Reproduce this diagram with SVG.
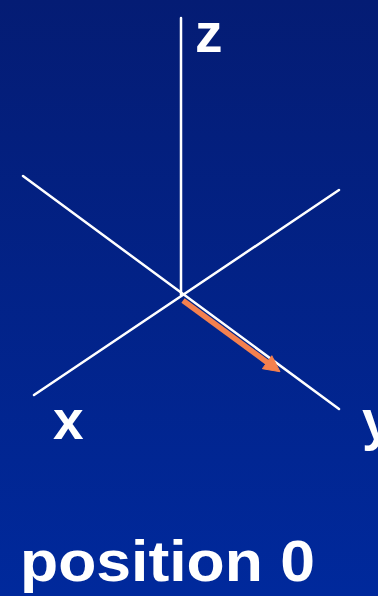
<svg xmlns="http://www.w3.org/2000/svg" width="378" height="596" viewBox="0 0 378 596">
<defs>
<linearGradient id="bg" x1="0" y1="0" x2="0" y2="1">
<stop offset="0" stop-color="#041c74"/>
<stop offset="1" stop-color="#00299c"/>
</linearGradient>
<style>
.axis{stroke:#ffffff;stroke-width:2.5;fill:none;stroke-linecap:round}
.lbl{font-family:"Liberation Sans",Arial,sans-serif;font-weight:bold;fill:#ffffff}
.arrow{fill:#f4804e;stroke:#f4804e}
</style>
</defs>
<rect width="378" height="596" fill="url(#bg)"/>
<g id="connectors">
<line class="axis" x1="181" y1="18" x2="181" y2="295"/>
<line class="axis" x1="23" y1="176" x2="339" y2="409"/>
<line class="axis" x1="339" y1="190" x2="34" y2="395"/>
<line x1="183" y1="300.5" x2="268" y2="363" stroke="#f4804e" stroke-width="5.5"/>
<polygon class="arrow" points="280,371.7 262.4,368.7 271.8,355.7"/>
</g>
<g id="label-z"><text class="lbl" x="195" y="52" font-size="55">z</text></g>
<g id="label-x"><text class="lbl" x="53" y="439" font-size="55">x</text></g>
<g id="label-y"><text class="lbl" x="362" y="439" font-size="55">y</text></g>
<g id="title"><text class="lbl" x="20" y="581" font-size="58" textLength="295" lengthAdjust="spacingAndGlyphs">position 0</text></g>
</svg>
